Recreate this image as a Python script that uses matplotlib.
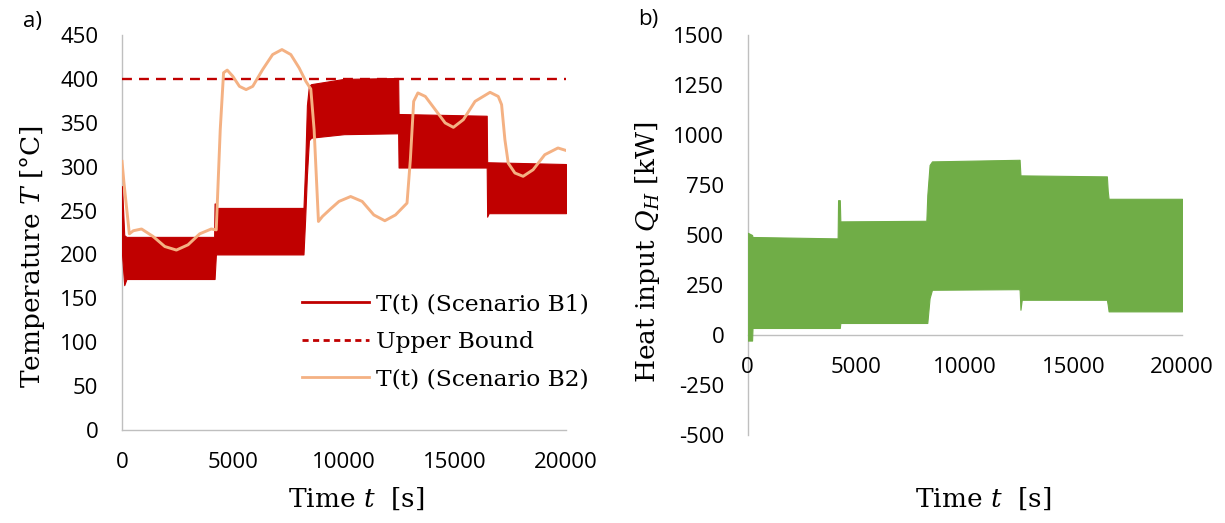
import matplotlib

matplotlib.use("Agg")
import matplotlib.pyplot as plt
from matplotlib.lines import Line2D

plt.rcParams['axes.unicode_minus'] = False
plt.rcParams['mathtext.fontset'] = 'dejavuserif'

# Scenario B1 temperature band (envelope of the fast oscillation)
B1_T = [0, 100, 200, 4150, 4170, 4230, 4250, 8175, 8250, 8330, 8420, 8520,
        10000, 12440, 12460, 16430, 16450, 16520, 20000]
B1_LO = [200, 165, 172, 172, 172, 200, 200, 200, 240, 290, 330, 333,
         337, 338, 299, 299, 243, 247, 247]
B1_HI = [278, 222, 220, 220, 258, 258, 253, 253, 300, 370, 392, 394,
         400, 401, 360, 358, 305, 305, 303]

UB_T = [0, 20000]
UB = [400, 400]

# Scenario B2 temperature
B2_T = [0, 90, 330, 510, 880, 1400, 1930, 2450, 2975, 3500, 4020, 4245,
        4425, 4575, 4740, 4990, 5290, 5590, 5890, 6335, 6785, 7205, 7605,
        7980, 8280, 8505, 8655, 8850, 9030, 9400, 9775, 10300, 10820, 11345,
        11840, 12320, 12840, 12990, 13140, 13330, 13665, 14110, 14560, 14930,
        15380, 15905, 16580, 16950, 17100, 17250, 17400, 17700, 18070, 18520,
        19045, 19640, 19985]
B2 = [306, 281, 223.5, 227, 229, 220.5, 209, 205, 211, 223.5, 229, 228,
      342, 407, 410, 403, 391.5, 387.8, 391.5, 410.6, 427.7, 433.4, 427.7,
      412.5, 397.3, 388.5, 342, 237.6, 243.3, 252, 260.4, 266, 260.4, 245,
      238.4, 245, 258.5, 308, 374.4, 384, 380, 365, 349.8, 344.8,
      353.6, 374.4, 384.7, 380, 370.7, 330.7, 304, 292.8, 289, 296.5,
      313.6, 321.3, 318.6]

# Heat input band (envelope)
Q_T = [0, 200, 220, 4140, 4160, 4240, 4265, 8225, 8270, 8375, 8485,
       12500, 12520, 12560, 12620, 16540, 16580, 16620, 20000]
Q_LO = [-28, -28, 35, 35, 35, 35, 60, 60, 60, 184, 226,
        229, 229, 126, 176, 176, 150, 118, 118]
Q_HI = [511, 500, 490, 483, 674, 674, 568, 571, 700, 850, 868,
        876, 876, 798, 798, 793, 720, 681, 681]

RED = '#C00000'
ORANGE = '#F4B183'
GREEN = '#70AD47'
GREY = '#BFBFBF'
SERIF = 'DejaVu Serif'
SANS = 'Open Sans'

fig = plt.figure(figsize=(12.25, 5.23), dpi=100)
ax1 = fig.add_axes([0.0996, 0.1778, 0.3624, 0.7553])
ax2 = fig.add_axes([0.6104, 0.1683, 0.3545, 0.7648])

# left panel
ax1.fill_between(B1_T, B1_LO, B1_HI, color=RED, lw=0.8, zorder=2)
ax1.plot(UB_T, UB, color=RED, lw=1.7, dashes=(4.2, 3.0), zorder=3)
ax1.plot(B2_T, B2, color=ORANGE, lw=2.1, zorder=4)
ax1.set_xlim(0, 20000)
ax1.set_ylim(0, 450)
ax1.set_xticks(range(0, 20001, 5000))
ax1.set_yticks(range(0, 451, 50))

handles = [Line2D([], [], color=RED, lw=2.0),
           Line2D([], [], color=RED, lw=2.0, dashes=(2.2, 1.6)),
           Line2D([], [], color=ORANGE, lw=2.0)]
labels = ['T(t) (Scenario B1)', 'Upper Bound', 'T(t) (Scenario B2)']
ax1.legend(handles, labels, loc='center left', bbox_to_anchor=(0.405, 0.2235),
           frameon=False, borderpad=0, borderaxespad=0, handlelength=2.9,
           handletextpad=0.3, labelspacing=0.66,
           prop={'family': SERIF, 'size': 16.8})
ax1.set_ylabel('Temperature $T$ [°C]', family=SERIF, fontsize=19)
ax1.yaxis.set_label_coords(-0.168, 0.438)
ax1.set_xlabel('Time $t$  [s]', family=SERIF, fontsize=19)
ax1.xaxis.set_label_coords(0.527, -0.14)

# right panel
ax2.fill_between(Q_T, Q_LO, Q_HI, color=GREEN, lw=0.8, zorder=2)
ax2.set_xlim(0, 20000)
ax2.set_ylim(-500, 1500)
ax2.set_xticks(range(0, 20001, 5000))
ax2.set_yticks(range(-500, 1501, 250))
ax2.spines['bottom'].set_position(('data', 0))
ax2.set_ylabel('Heat input $Q_H$ [kW]', family=SERIF, fontsize=19)
ax2.yaxis.set_label_coords(-0.197, 0.4575)
ax2.set_xlabel('Time $t$  [s]', family=SERIF, fontsize=19)
ax2.xaxis.set_label_coords(0.542, -0.1275)

for ax in (ax1, ax2):
    for s in ('top', 'right'):
        ax.spines[s].set_visible(False)
    for s in ('left', 'bottom'):
        ax.spines[s].set_color(GREY)
        ax.spines[s].set_linewidth(1.0)
        ax.spines[s].set_zorder(1)
    ax.tick_params(length=0, labelsize=16)
    ax.tick_params(axis='y', pad=17)
    ax.tick_params(axis='x', pad=16)
    for lab in ax.get_xticklabels() + ax.get_yticklabels():
        lab.set_family(SANS)

fig.text(32 / 1225, 1 - 22 / 523, 'a)', family=SANS, fontsize=16,
         ha='center', va='center')
fig.text(648 / 1225, 1 - 20 / 523, 'b)', family=SANS, fontsize=16,
         ha='center', va='center')

fig.savefig('out.png', dpi=100)
